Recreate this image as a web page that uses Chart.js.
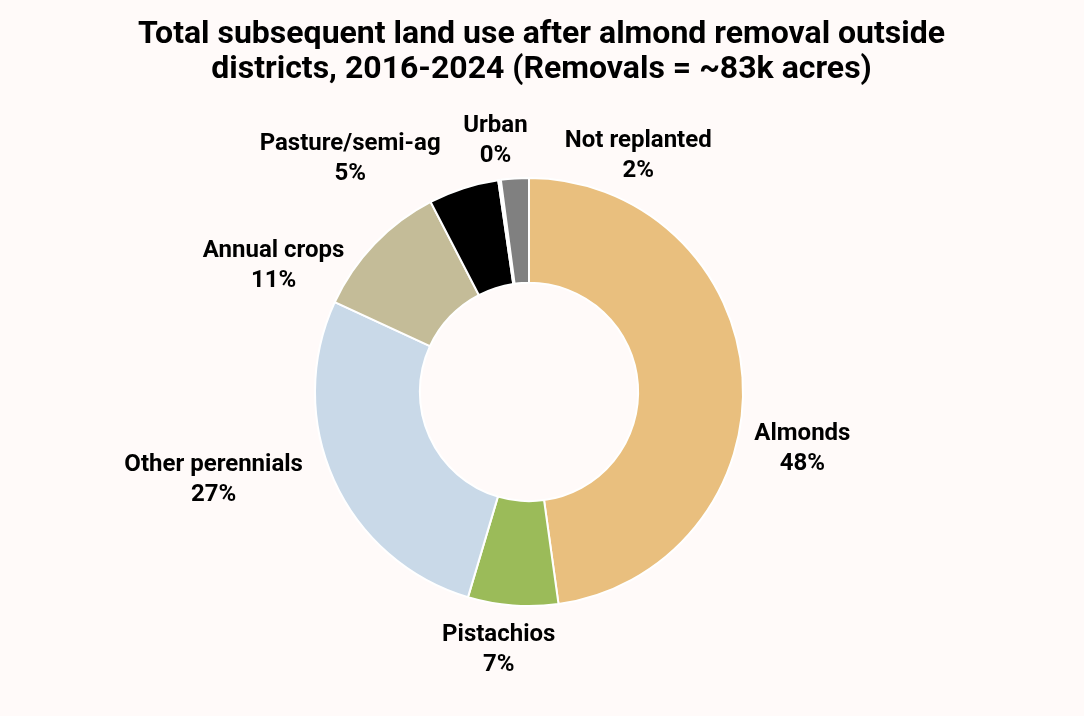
<!DOCTYPE html>
<html>
<head>
<meta charset="utf-8">
<script src="https://cdn.jsdelivr.net/npm/chart.js@4"></script>
<style>
  html, body { margin: 0; padding: 0; background: #fffaf9; }
  #wrap { width: 1084px; height: 716px; }
</style>
</head>
<body>
<div id="wrap"><canvas id="landUse" width="1084" height="716"></canvas></div>
<script>
// land use categories, clockwise from 12 o'clock
const categories = ['Almonds', 'Pistachios', 'Other perennials', 'Annual crops', 'Pasture/semi-ag', 'Urban', 'Not replanted'];
// share of removed acres (percent)
const shares = [47.8, 6.8, 27.3, 10.5, 5.3, 0.2, 2.1];
const sliceColors = ['#e9bf7e', '#9bbb59', '#c9d9e8', '#c4bc98', '#000000', '#ffffff', '#808080'];
const titleLines = ['Total subsequent land use after almond removal outside', 'districts, 2016-2024 (Removals = ~83k acres)'];

// nudges for the outside labels (Excel shoves them around to avoid overlap)
const labelNudge = [[0, 75], [-9, 5], [-28, -17], [-41, 50], [-82, 9], [2, 1], [129, 17]];

const labelFont = 'bold 24px Roboto';

const titlePlugin = {
  id: 'titleText',
  afterDraw: (chart) => {
    const ctx = chart.ctx;
    ctx.save();
    ctx.fillStyle = '#000';
    ctx.font = 'bold 32px Roboto';
    ctx.textAlign = 'center';
    ctx.textBaseline = 'middle';
    ctx.fillText(titleLines[0], 541.5, 35);
    ctx.fillText(titleLines[1], 541.5, 70);
    ctx.restore();
  }
};

const outsideLabels = {
  id: 'outsideLabels',
  afterDatasetsDraw: (chart) => {
    const ctx = chart.ctx;
    const meta = chart.getDatasetMeta(0);
    ctx.save();
    ctx.font = labelFont;
    ctx.fillStyle = '#000';
    ctx.textAlign = 'center';
    ctx.textBaseline = 'middle';
    meta.data.forEach((arc, i) => {
      const mid = (arc.startAngle + arc.endAngle) / 2;
      const dx = Math.cos(mid), dy = Math.sin(mid);
      const pct = Math.round(shares[i]) + '%';
      const w = Math.max(ctx.measureText(categories[i]).width, ctx.measureText(pct).width);
      const h = 56;
      const r = arc.outerRadius + 12;
      const cx = arc.x + dx * r + dx * w / 2 + labelNudge[i][0];
      const cy = arc.y + dy * r + dy * h / 2 + labelNudge[i][1];
      ctx.fillText(categories[i], cx, cy - 15);
      ctx.fillText(pct, cx, cy + 15);
    });
    ctx.restore();
  }
};

new Chart(
  document.getElementById('landUse'),
  {
    type: 'doughnut',
    data: {
      labels: categories,
      datasets: [
        {
          data: shares,
          backgroundColor: sliceColors,
          borderColor: '#ffffff',
          borderWidth: 2,
        }
      ]
    },
    options: {
      responsive: false,
      animation: false,
      cutout: '51%',
      layout: {
        padding: { top: 177, bottom: 109, left: 314, right: 340 }
      },
      plugins: {
        legend: { display: false },
        tooltip: { enabled: false }
      }
    },
    plugins: [titlePlugin, outsideLabels]
  }
);
</script>
</body>
</html>
